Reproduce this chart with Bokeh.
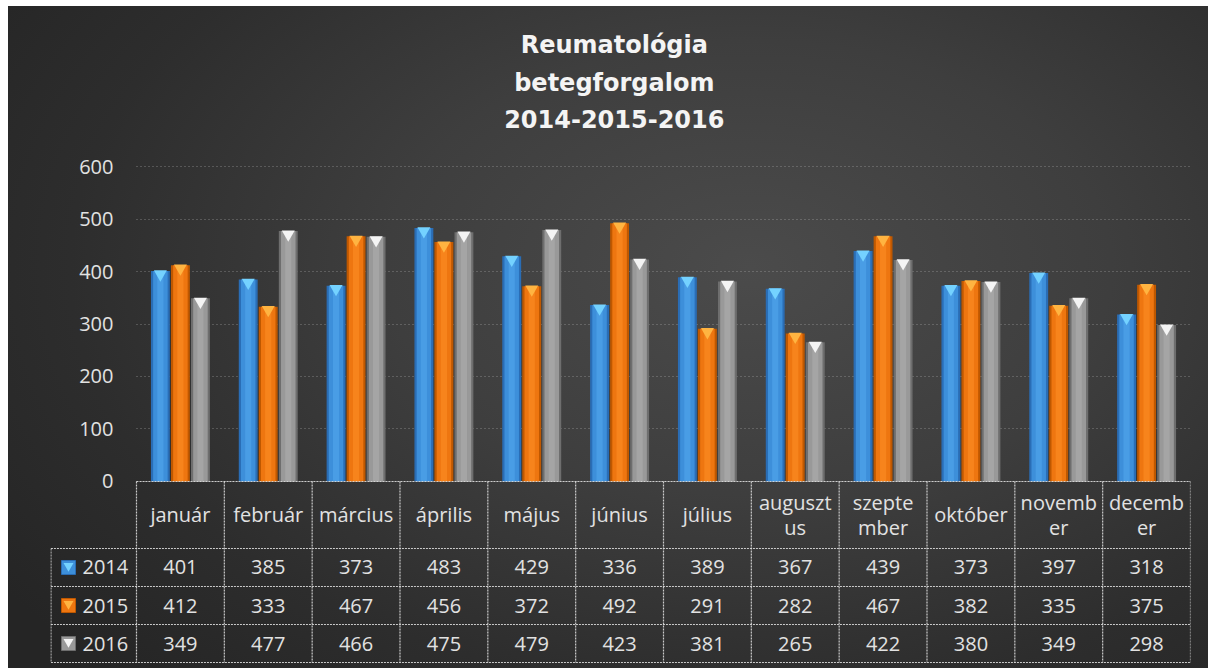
import numpy as np
from bokeh.plotting import figure
from bokeh.models import Range1d, FixedTicker, ColumnDataSource
from bokeh.core.properties import value
from bokeh.embed import file_html
from bokeh.resources import INLINE

# ---- data ----
months = ["január", "február", "március", "április", "május", "június",
          "július", "auguszt\nus", "szepte\nmber", "október", "novemb\ner", "decemb\ner"]
years = ["2014", "2015", "2016"]
v2014 = [401, 385, 373, 483, 429, 336, 389, 367, 439, 373, 397, 318]
v2015 = [412, 333, 467, 456, 372, 492, 291, 282, 467, 382, 335, 375]
v2016 = [349, 477, 466, 475, 479, 423, 381, 265, 422, 380, 349, 298]
yticks = [0, 100, 200, 300, 400, 500, 600]
title_lines = ["Reumatológia", "betegforgalom", "2014-2015-2016"]

series = [v2014, v2015, v2016]
# style: (edge, body, highlight, triangle)
styles = [("#2a6db5", "#3d8fda", "#4ea3ea", "#74d2ff"),
          ("#bf5800", "#ee7610", "#fb8a22", "#ffb441"),
          ("#6e6e6e", "#999999", "#aaaaaa", "#f4f4f4")]

FONT = "Open Sans"
TXT = "#e2e2e2"
FS = "20px"

# 1 data unit = 0.525 px vertically; frame spans the whole figure height
p = figure(width=1208, height=668, x_range=Range1d(-1.479, 11.5), y_range=Range1d(-356.2, 916.2),
           output_backend="svg", toolbar_location=None,
           min_border_left=50, min_border_right=18, min_border_top=0, min_border_bottom=0)
p.styles = {"background": ("linear-gradient(to right, #ffffff 0px, #ffffff 8px, transparent 8px), "
                           "linear-gradient(to bottom, #ffffff 0px, #ffffff 6px, transparent 6px), "
                           "radial-gradient(ellipse 75% 85% at 62% 40%, #4b4b4b 0%, #3e3e3e 40%, "
                           "#2d2d2d 75%, #252525 100%)")}
p.background_fill_color = None
p.border_fill_color = None
p.outline_line_color = None

# title lines (centred)
p.text(x=[4.94] * 3, y=[830.5, 760.0, 691.4], text=title_lines, text_align="center",
       text_baseline="middle", text_font=value("DejaVu Sans"), text_font_style="bold",
       text_font_size="24px", text_color="#f4f4f4")

# axes
p.xaxis.visible = False
p.xgrid.visible = False
ax = p.yaxis[0]
ax.ticker = FixedTicker(ticks=yticks)
ax.axis_line_color = None
ax.major_tick_line_color = None
ax.minor_tick_line_color = None
ax.major_tick_out = 0
ax.major_tick_in = 0
ax.major_label_standoff = -63
ax.major_label_text_font = FONT
ax.major_label_text_font_size = FS
ax.major_label_text_color = TXT
p.ygrid.grid_line_color = "#c8c8c8"
p.ygrid.grid_line_alpha = 0.5
p.ygrid.grid_line_dash = "1 3"
p.ygrid.cross_bounds = (-0.5, 11.5)

# bars
xs = np.arange(len(months))
offsets = [-0.228, 0.0, 0.228]
for vals, off, (edge, body, hi, tri) in zip(series, offsets, styles):
    src = ColumnDataSource(dict(x=xs + off, top=vals, tri=np.array(vals) - 6.0))
    p.vbar(x="x", top="top", bottom=0, width=0.215, source=src, fill_color=edge, line_color=None)
    p.vbar(x="x", top="top", bottom=0, width=0.165, source=src, fill_color=body, line_color=None)
    p.vbar(x="x", top="top", bottom=0, width=0.07, source=src, fill_color=hi, line_color=None, fill_alpha=0.7)
    p.scatter(x="x", y="tri", source=src, marker="inverted_triangle", size=13,
              fill_color=tri, line_color=None)

# table grid lines
hdr_bot, row_h = -127.6, 72.4
row_lines = [hdr_bot - i * row_h for i in range(4)]
dash = dict(line_color="#dcdcdc", line_dash="2 1", line_width=1.2, line_alpha=0.9)
p.segment(x0=[-0.5], y0=[0], x1=[11.5], y1=[0], **dash)
p.segment(x0=[-1.474] * 4, y0=row_lines, x1=[11.5] * 4, y1=row_lines, **dash)
vx = list(np.arange(13) - 0.5)
p.segment(x0=vx, y0=[0] * 13, x1=vx, y1=[row_lines[-1]] * 13, **dash)
p.segment(x0=[-1.474], y0=[hdr_bot], x1=[-1.474], y1=[row_lines[-1]], **dash)

# header text
p.text(x=xs, y=[hdr_bot / 2] * 12, text=months, text_align="center", text_baseline="middle",
       text_font=value(FONT), text_font_size=FS, text_color=TXT, text_line_height=0.9)

# value rows
for r, (vals, (edge, body, hi, tri)) in enumerate(zip(series, styles)):
    yc = hdr_bot - (r + 0.5) * row_h
    p.text(x=xs, y=[yc] * 12, text=[str(v) for v in vals], text_align="center", text_baseline="middle",
           text_font=value(FONT), text_font_size=FS, text_color=TXT)
    p.scatter(x=[-1.274], y=[yc], marker="square", size=14, fill_color=body, line_color=edge, line_width=1)
    p.scatter(x=[-1.274], y=[yc + 3], marker="inverted_triangle", size=10, fill_color=tri, line_color=None)
    p.text(x=[-1.115], y=[yc], text=[years[r]], text_align="left", text_baseline="middle",
           text_font=value(FONT), text_font_size=FS, text_color=TXT)

open("out.html", "w").write(file_html(p, INLINE))
